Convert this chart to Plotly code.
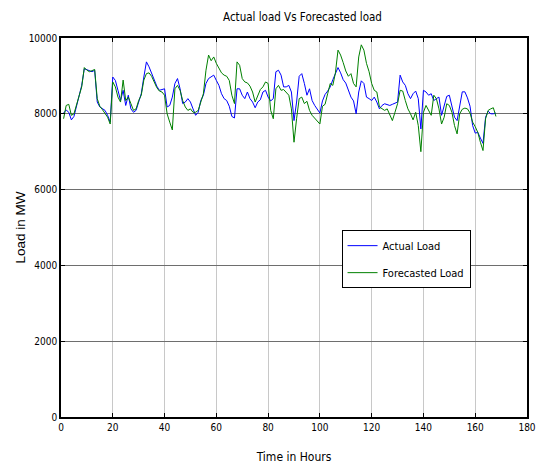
import plotly.graph_objects as go

hours = list(range(1, 169))

actual_load = [
    8020, 8100, 8040, 7840, 7930, 8220, 8490, 8750, 9190, 9170,
    9150, 9110, 9150, 8310, 8180, 8130, 8090, 7960, 7780, 8970,
    8880, 8620, 8350, 8620, 8220, 8490, 8130, 8040, 8090, 8310,
    8530, 8970, 9370, 9240, 9060, 8880, 8730, 8620, 8630, 8660,
    8180, 8220, 8440, 8800, 8930, 8660, 8270, 8310, 8400, 8310,
    8130, 7960, 8040, 8350, 8490, 8800, 8930, 8970, 9020, 8880,
    8750, 8530, 8400, 8350, 8200, 7930, 7890, 8660, 8660, 8490,
    8400, 8575, 8400, 8310, 8160, 8310, 8370, 8575, 8620, 8440,
    8340, 8400, 9110, 9150, 9020, 8710, 8710, 8750, 8575, 7820,
    8310, 8990, 9060, 8800, 8490, 8660, 8350, 8220, 8130, 8020,
    8340, 8510, 8600, 8710, 8900, 9080, 9220, 9080, 8900, 8810,
    8620, 8440, 8340, 8000, 8575, 8870, 8800, 8440, 8400, 8350,
    8440, 8310, 8130, 8220, 8265, 8250, 8220, 8250, 8280, 8310,
    9020, 8840, 8750, 8530, 8400, 8530, 8600, 8400, 7600, 8620,
    8575, 8490, 8530, 8350, 8400, 8440, 7960, 8220, 8460, 8490,
    8220, 7910, 7820, 8180, 8580, 8580, 8420, 8200, 7690, 7490,
    7510, 7360, 7220, 7910, 8070, 8000, 8000, 8020,
]

forecasted_load = [
    7870, 8220, 8250, 7960, 8000, 8220, 8490, 8710, 9220, 9150,
    9110, 9130, 9170, 8400, 8200, 8110, 8020, 7910, 7730, 8840,
    8710, 8440, 8310, 8890, 8350, 8440, 8270, 8090, 8130, 8350,
    8490, 8890, 9060, 9080, 8990, 8840, 8690, 8600, 8575, 8490,
    8000, 7780, 7575, 8660, 8750, 8620, 8350, 8180, 8090, 8130,
    8040, 8040, 8090, 8310, 8530, 9150, 9550, 9400, 9500, 9330,
    9220, 9080, 9020, 8990, 8880, 8490, 8270, 9370, 9280, 8930,
    8840, 8815, 8730, 8575, 8310, 8490, 8640, 8710, 8840, 8800,
    8090, 7870, 8660, 8750, 8620, 8640, 8575, 8490, 8130, 7250,
    7870, 8400, 8440, 8270, 8330, 8090, 7960, 7890, 7800, 7730,
    8200, 8250, 8530, 8800, 8750, 9080, 9680, 9550, 9350, 9130,
    8990, 9060, 8800, 8710, 9500, 9820, 9680, 9330, 9110, 8800,
    8620, 8575, 8180, 8130, 8090, 8130, 7960, 7820, 8040, 8265,
    8620, 8600, 8350, 8130, 8000, 7840, 8040, 7690, 7000, 8040,
    8220, 8090, 7960, 8490, 8400, 8130, 7730, 7910, 8265, 8220,
    8040, 7690, 7470, 8000, 8120, 8150, 8130, 8020, 7780, 7660,
    7510, 7250, 7030, 7870, 8090, 8130, 8160, 7930,
]

x_ticks = [0, 20, 40, 60, 80, 100, 120, 140, 160, 180]
y_ticks = [0, 2000, 4000, 6000, 8000, 10000]

narrow = "DejaVu Sans Condensed, Liberation Sans Narrow, Arial Narrow, sans-serif"

fig = go.Figure()
fig.add_trace(go.Scatter(x=hours, y=actual_load, mode="lines", name="Actual Load",
                         legendgroup="a", line=dict(color="#0000ff", width=1)))
fig.add_trace(go.Scatter(x=hours, y=forecasted_load, mode="lines", name="Forecasted Load",
                         legendgroup="f", line=dict(color="#008000", width=1)))

fig.update_layout(
    width=545, height=471,
    margin=dict(l=61, r=9, t=38, b=50),
    paper_bgcolor="white", plot_bgcolor="white",
    font=dict(family=narrow, size=10, color="black"),
    title=dict(text="Actual load Vs Forecasted load", x=0.555, xanchor="center",
               y=0.965, yanchor="middle", font=dict(family=narrow, size=11.5)),
    showlegend=True,
    legend=dict(x=0.602, y=0.493, xanchor="left", yanchor="top",
                bgcolor="white", bordercolor="black", borderwidth=1,
                font=dict(family=narrow, size=11), itemwidth=30,
                tracegroupgap=8),
    xaxis=dict(range=[0, 180], tickvals=x_ticks, ticktext=[str(v) for v in x_ticks],
               showgrid=True, gridcolor="#c8c8c8", gridwidth=1,
               showline=True, linecolor="black", linewidth=1.5, mirror="allticks",
               ticks="inside", ticklen=4, tickcolor="black",
               zeroline=False, ticklabeloverflow="allow",
               title=dict(text="Time in Hours", font=dict(family=narrow, size=12), standoff=21)),
    yaxis=dict(range=[0, 10000], tickvals=y_ticks, ticktext=[str(v) for v in y_ticks],
               showgrid=True, gridcolor="#6e6e6e", gridwidth=1,
               showline=True, linecolor="black", linewidth=1.5, mirror="allticks",
               ticks="inside", ticklen=4, tickcolor="black",
               zeroline=False, ticklabeloverflow="allow",
               title=dict(text="Load in MW", font=dict(family="Liberation Sans, Arial, sans-serif", size=13.5),
                          standoff=0)),
)

fig.write_html("out.html")
